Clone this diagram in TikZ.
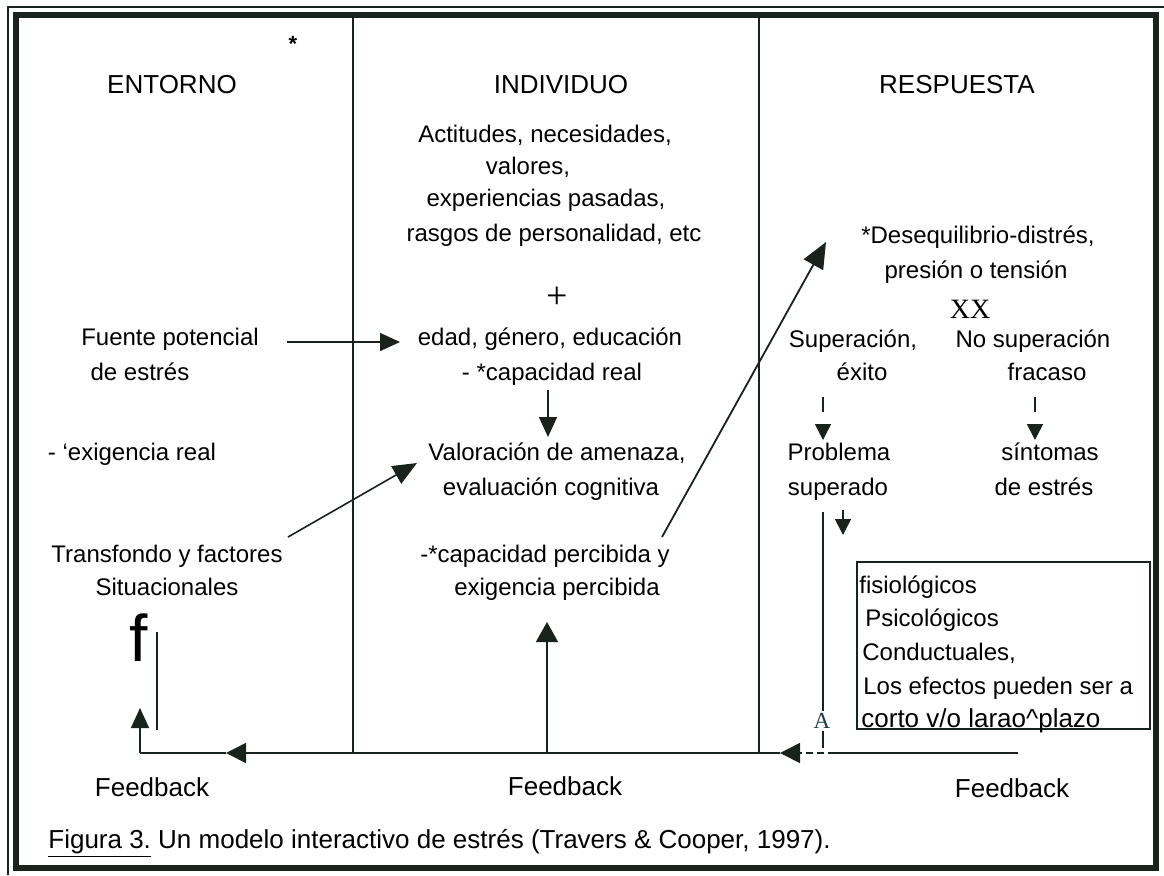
\documentclass[tikz,border=0pt]{standalone}
\usepackage{fontspec}
\setmainfont{Liberation Sans}
\newfontfamily\seriffont{Liberation Serif}
\usetikzlibrary{arrows.meta}
\definecolor{ink}{HTML}{1A221E}
\definecolor{tealink}{HTML}{1F3A48}
\begin{document}
\begin{tikzpicture}[x=0.5pt,y=-0.5pt,
  txt/.style={anchor=base, inner sep=0pt, font=\fontsize{12}{14}\selectfont},
  head/.style={anchor=base, inner sep=0pt, font=\fontsize{13}{15}\selectfont},
  boxtxt/.style={anchor=base west, inner sep=0pt, font=\fontsize{12}{14}\selectfont},
  ln/.style={draw=ink, line width=0.8pt},
  arr/.style={ln, -{Triangle[length=10pt,width=9pt]}},
  bigarr/.style={ln, -{Triangle[length=12pt,width=10pt]}},
  smallarr/.style={ln, -{Triangle[length=8pt,width=8pt]}}]
\useasboundingbox (0,0) rectangle (1164,875);
\fill[white] (0,0) rectangle (1164,875);
% frame
\draw[ink, line width=2.6pt] (16,15) rectangle (1156,868);
\draw[ink, line width=0.6pt] (8,875) -- (8,7) -- (1164,7);
% column dividers
\coordinate (d1t) at (353,15); \coordinate (d1b) at (353,753);
\coordinate (d2t) at (759,15); \coordinate (d2b) at (759,753);
\draw[ln] (d1t) -- (d1b);
\draw[ln] (d2t) -- (d2b);
% coordinates for connectors
\coordinate (fbR) at (1018,753);
\coordinate (fbDs) at (835,753);
\coordinate (fbTip) at (780,753);
\coordinate (fbMidTip) at (226,753);
\coordinate (fbL) at (140,753);
\coordinate (fbUpTip) at (140,708);
\coordinate (fl1) at (157,632); \coordinate (fl2) at (157,730);
\coordinate (midS) at (547,753); \coordinate (midTip) at (547,622);
\coordinate (fuS) at (287,342); \coordinate (fuTip) at (400,342);
\coordinate (caS) at (548,390); \coordinate (caTip) at (548,437);
\coordinate (trS) at (288,537); \coordinate (trTip) at (417,463);
\coordinate (loS) at (662,537); \coordinate (loTip) at (826,242);
\coordinate (ex1) at (823,397); \coordinate (ex2) at (823,412);
\coordinate (ex3) at (823,424); \coordinate (ex4) at (823,440);
\coordinate (fr1) at (1035,397); \coordinate (fr2) at (1035,412);
\coordinate (fr3) at (1035,424); \coordinate (fr4) at (1035,440);
\coordinate (suS) at (843,510); \coordinate (suTip) at (843,535);
\coordinate (v1) at (823,512); \coordinate (v2) at (823,711);
\coordinate (v3) at (823,731); \coordinate (v4) at (823,748);
% feedback loop
\draw[ln] (fbR) -- (fbDs);
\draw[ln, dash pattern=on 3.5pt off 2pt, -{Triangle[length=10pt,width=10pt]}] (fbDs) -- (fbTip);
\draw[ln, -{Triangle[length=10pt,width=10pt]}] (fbTip) -- (fbMidTip);
\draw[ln] (fbMidTip) -- (fbL);
\draw[arr] (fbL) -- (fbUpTip);
\draw[ln] (fl1) -- (fl2);
\draw[ln, -{Triangle[length=10pt,width=11pt]}] (midS) -- (midTip);
% other arrows
\draw[arr] (fuS) -- (fuTip);
\draw[arr] (caS) -- (caTip);
\draw[bigarr] (trS) -- (trTip);
\draw[ln, line width=0.9pt, -{Triangle[length=13pt,width=11pt]}] (loS) -- (loTip);
\draw[ln] (ex1) -- (ex2);
\draw[smallarr] (ex3) -- (ex4);
\draw[ln] (fr1) -- (fr2);
\draw[smallarr] (fr3) -- (fr4);
\draw[smallarr] (suS) -- (suTip);
\draw[ln] (v1) -- (v2);
\draw[ln] (v3) -- (v4);
% effects box
\draw[ln] (857,562) rectangle (1150,729);
% headers
\node[head] (entorno) at (172,93) {ENTORNO};
\node[head] (individuo) at (561,93) {INDIVIDUO};
\node[head] (respuesta) at (957,93) {RESPUESTA};
\node[anchor=center, inner sep=0pt, font=\fontsize{11}{11}\selectfont\bfseries] (mark) at (293,44) {*};
% middle column
\node[txt] (m1) at (545,142) {Actitudes, necesidades,};
\node[txt] (m2) at (528,174) {valores,};
\node[txt] (m3) at (546,206) {experiencias pasadas,};
\node[txt] (m4) at (554,241) {rasgos de personalidad, etc};
\node[txt, font=\seriffont\fontsize{19}{20}\selectfont] (plus) at (557,308) {+};
\node[txt] (m5) at (550,345) {edad, género, educación};
\node[txt] (m6) at (552,380) {- *capacidad real};
\node[txt] (m7) at (557,460) {Valoración de amenaza,};
\node[txt] (m8) at (551,495) {evaluación cognitiva};
\node[txt] (m9) at (545,562) {-*capacidad percibida y};
\node[txt] (m10) at (557,595) {exigencia percibida};
\node[head] (fbm) at (565,795) {Feedback};
% left column
\node[txt] (l1) at (170,345) {Fuente potencial};
\node[txt] (l2) at (140,380) {de estrés};
\node[txt] (l3) at (132,460) {- ‘exigencia real};
\node[txt] (l4) at (167,562) {Transfondo y factores};
\node[txt] (l5) at (167,595) {Situacionales};
\node[txt, font=\fontsize{33}{33}\selectfont] (bigf) at (139,661) {f};
\node[head] (fbl) at (152,796) {Feedback};
% right column
\node[txt] (r1) at (978,243) {*Desequilibrio-distrés,};
\node[txt] (r2) at (976,278) {presión o tensión};
\node[txt, font=\seriffont\fontsize{14}{15}\selectfont] (xx) at (970,318) {XX};
\node[txt] (r3) at (853,347) {Superación,};
\node[txt] (r4) at (1033,347) {No superación};
\node[txt] (r5) at (862,380) {éxito};
\node[txt] (r6) at (1047,380) {fracaso};
\node[txt] (r7) at (839,460) {Problema};
\node[txt] (r8) at (1050,460) {síntomas};
\node[txt] (r9) at (838,495) {superado};
\node[txt] (r10) at (1044,495) {de estrés};
\node[head] (fbr) at (1012,797) {Feedback};
\node[txt, text=tealink, font=\seriffont\fontsize{11.5}{12}\selectfont] (bigA) at (822,728) {A};
% box text
\node[boxtxt] (b1) at (859,593) {fisiológicos};
\node[boxtxt] (b2) at (865,626) {Psicológicos};
\node[boxtxt] (b3) at (862,660) {Conductuales,};
\node[boxtxt] (b4) at (863,694) {Los efectos pueden ser a};
\node[boxtxt, font=\fontsize{13}{14}\selectfont] (b5) at (861,727) {corto v/o larao\textasciicircum plazo};
% caption
\node[anchor=base west, inner sep=0pt, font=\fontsize{13}{15}\selectfont] (cap) at (48,848) {\underline{Figura 3.} Un modelo interactivo de estrés (Travers \& Cooper, 1997).};
\end{tikzpicture}
\end{document}
